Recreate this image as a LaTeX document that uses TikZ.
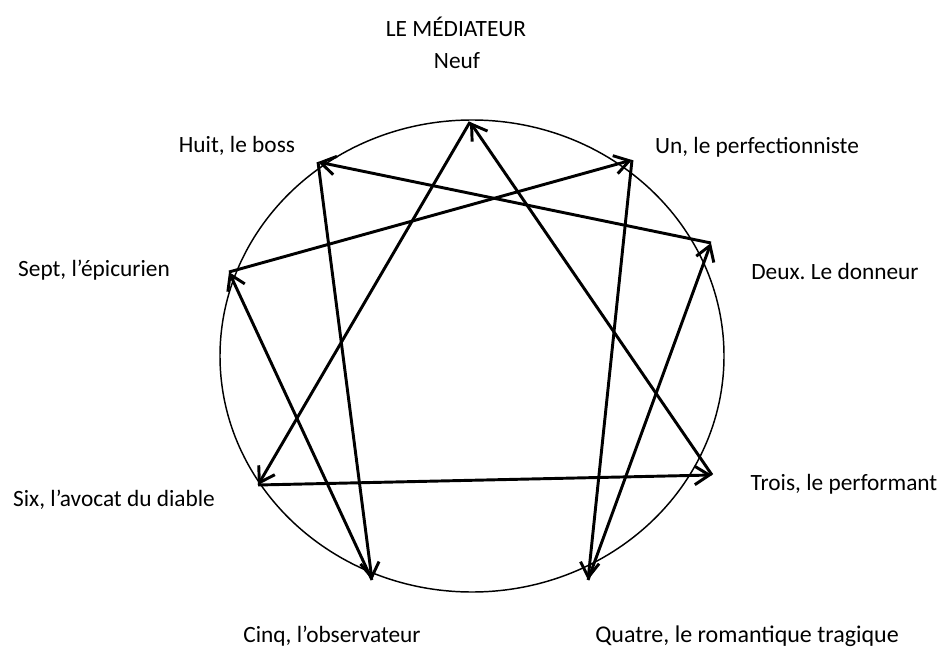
\documentclass[tikz,border=0pt]{standalone}
\usepackage{fontspec}
\setmainfont{Carlito}
\usepackage{tikz}
\usetikzlibrary{arrows.meta,calc}
\tikzset{
    myring/.style={draw=black,line width=1.1pt},
    myedge/.style={line width=2.2pt,draw=black,-{Straight Barb[length=11pt,width=14pt,line width=2.2pt]}},
    mylabel/.style={font=\fontsize{17.5}{20}\selectfont,inner sep=0pt}
}
\frenchspacing

\begin{document}
\begin{tikzpicture}[x=0.75pt,y=-0.75pt]
  \useasboundingbox (0,0) rectangle (943,649);

  \coordinate (C) at (472,356);
  \coordinate (P9) at (470,122);
  \coordinate (P1) at (632,160);
  \coordinate (P2) at (711,243);
  \coordinate (P3) at (712,475);
  \coordinate (P4) at (588,580);
  \coordinate (P5) at (372,580);
  \coordinate (P6) at (258,485);
  \coordinate (P7) at (229,272);
  \coordinate (P8) at (318,162);

  \draw[myring] (C) ellipse [x radius=189pt,y radius=177pt];

  \foreach \a/\b in {P1/P4,P4/P2,P2/P8,P8/P5,P5/P7,P7/P1,P9/P6,P6/P3,P3/P9}{
    \draw[myedge] (\a) -- (\b);
  }

  \node[mylabel] (T9a) at (456,27) {LE MÉDIATEUR};
  \node[mylabel] (T9) at (457,61) {Neuf};
  \node[mylabel] (T8) at (237,146) {Huit, le boss};
  \node[mylabel] (T1) at (757,147) {Un, le perfectionniste};
  \node[mylabel] (T7) at (94,270) {Sept, l’épicurien};
  \node[mylabel] (T2) at (835,271) {Deux. Le donneur};
  \node[mylabel] (T3) at (844,484) {Trois, le performant};
  \node[mylabel] (T6) at (114,500) {Six, l’avocat du diable};
  \node[mylabel] (T5) at (332,636) {Cinq, l’observateur};
  \node[mylabel,font=\fontsize{18}{21}\selectfont] (T4) at (747,636) {Quatre, le romantique tragique};
\end{tikzpicture}
\end{document}
